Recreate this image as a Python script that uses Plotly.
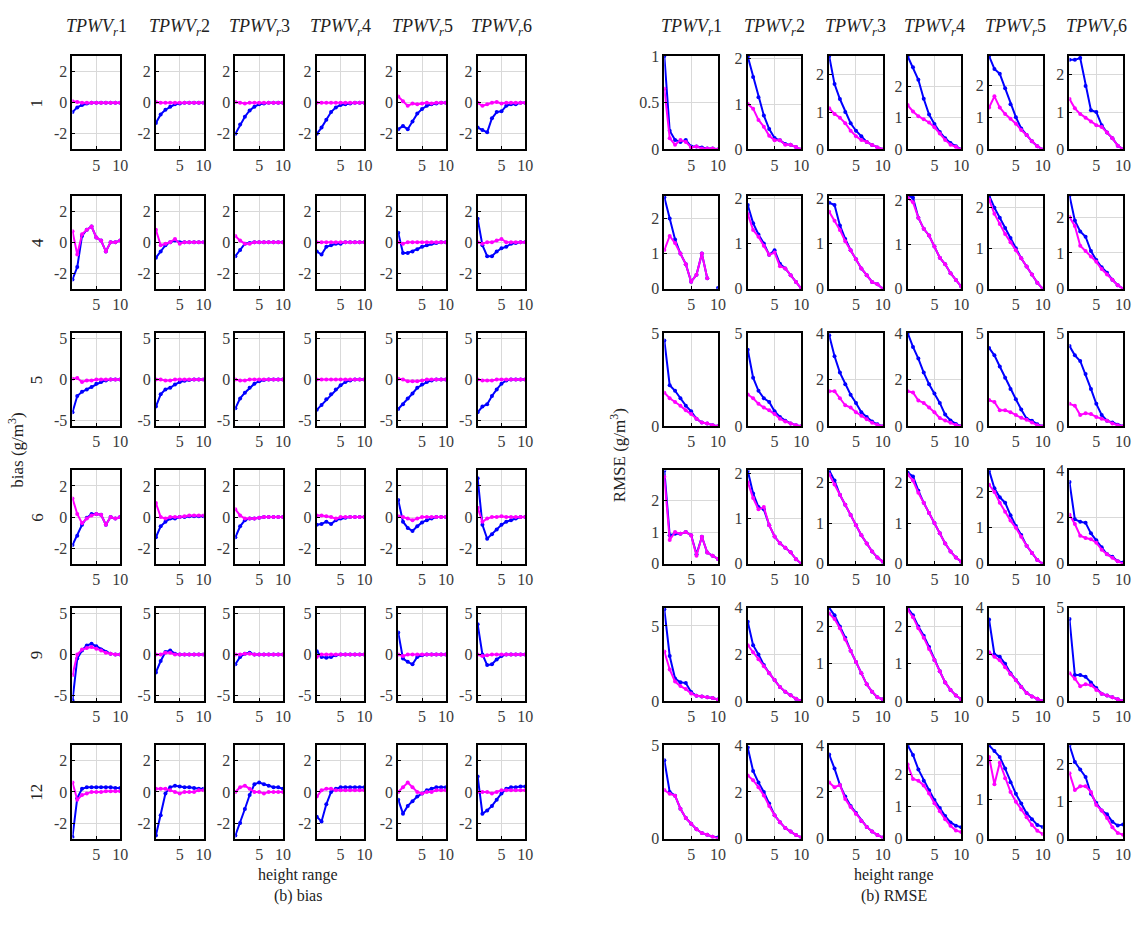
import plotly.graph_objects as go

# ---------------- data ----------------
heights = [0, 1, 2, 3, 4, 5, 6, 7, 8, 9, 10]
row_labels = ["1", "4", "5", "6", "9", "12"]
col_labels = ["1", "2", "3", "4", "5", "6"]
x_tickvals = [5, 10]
x_ticktext = ["5", "10"]

# bias panel: per row, list of 6 columns (blue = first series, magenta = second)
bias_blue_1 = [[-0.6,-0.3,-0.15,-0.05,0,0,0,0,0,0,0],
               [-1.3,-0.75,-0.45,-0.25,-0.1,-0.05,0,0,0,0,0],
               [-2.0,-1.4,-0.9,-0.5,-0.25,-0.1,-0.05,0,0,0,0],
               [-2.0,-1.6,-1.1,-0.6,-0.3,-0.15,-0.1,-0.05,0,0,0],
               [-1.7,-1.5,-1.7,-1.2,-0.7,-0.4,-0.2,-0.1,-0.05,0,0],
               [-1.6,-1.75,-1.9,-1.0,-0.6,-0.55,-0.2,-0.1,-0.1,0,0]]
bias_mag_1 = [[0.1,0.05,0,0,0,0,0,0,0,0,0],
              [0.05,0,0,0,0,0,0,0,0,0,0],
              [0.05,0,-0.05,0,0,0,0,0,0,0,0],
              [0,0,0,0,0,0,0,0,0,0,0],
              [0.4,0.1,-0.2,-0.05,-0.1,-0.05,0,-0.05,0,0,0],
              [0,-0.2,-0.1,0,0.05,-0.05,0,0,0,0,0]]
bias_blue_4 = [[-2.4,-1.6,0.4,0.8,1.0,0.3,0.1,-0.6,0.0,0.0,0.1],
               [-1.0,-0.6,-0.2,0.0,0.1,0,0,0,0,0,0],
               [-0.9,-0.5,-0.1,-0.05,0,0,0,0,0,0,0],
               [-0.6,-0.8,-0.3,-0.2,-0.1,-0.1,0,0,0,0,0],
               [0.6,-0.7,-0.7,-0.6,-0.45,-0.3,-0.2,-0.1,-0.05,0,0],
               [1.5,-0.2,-0.9,-0.9,-0.6,-0.4,-0.3,-0.1,-0.05,0,0]]
bias_mag_4 = [[0.7,-0.8,0.5,0.8,1.0,0.3,0.1,-0.6,0.0,0.0,0.1],
              [0.8,-0.2,-0.1,0.0,0.2,-0.1,0,0,0,0,0],
              [0.4,0.1,-0.1,-0.1,0,0,0,0,0,0,0],
              [0,0,0,0,0,0,0,0,0,0,0],
              [0,-0.1,0,0,0,0,0,0,0,0,0],
              [0,-0.1,0,0,0.1,0.2,0,0,0,0,0]]
bias_blue_5 = [[-4.0,-2.0,-1.5,-1.2,-0.9,-0.5,-0.3,-0.1,0,0,0],
               [-3.3,-1.8,-1.2,-1.0,-0.6,-0.3,-0.15,-0.05,0,0,0],
               [-3.5,-2.3,-1.6,-1.0,-0.5,-0.2,-0.05,0,0,0,0],
               [-3.7,-3.1,-2.4,-1.8,-1.2,-0.7,-0.3,-0.1,0,0,0],
               [-3.6,-3.0,-2.3,-1.7,-1.0,-0.6,-0.3,-0.1,0,0,0],
               [-4.0,-3.3,-3.0,-2.0,-1.2,-0.5,-0.1,0,0,0,0]]
bias_mag_5 = [[0.1,0.2,-0.3,-0.1,-0.1,0,0,0,0,0,0],
              [0,0,-0.1,-0.1,0,0,0,0,0,0,0],
              [0,-0.1,-0.1,0,0,0,0,0,0,0,0],
              [0,0,0,0,0,0,0,0,0,0,0],
              [0.1,0,-0.2,-0.2,-0.2,-0.1,0,0,0,0,0],
              [0,-0.1,-0.1,-0.1,0,0,0,0,0,0,0]]
bias_blue_6 = [[-1.8,-1.2,-0.5,-0.05,0.2,0.2,0.15,-0.5,0.0,-0.1,0.0],
               [-1.3,-0.6,-0.3,-0.1,-0.1,0,0,0.05,0.05,0.05,0.05],
               [-1.3,-0.6,-0.2,-0.1,-0.1,-0.05,0,0,0,0,0],
               [-0.5,-0.45,-0.3,-0.45,-0.2,-0.1,-0.05,0,0,0,0],
               [1.1,-0.3,-0.7,-0.9,-0.6,-0.35,-0.2,-0.1,0,0,0],
               [2.5,-0.5,-1.4,-1.1,-0.8,-0.5,-0.3,-0.2,-0.1,0,0]]
bias_mag_6 = [[1.2,0.2,-0.4,-0.1,0.1,0.2,0.15,-0.5,0.0,-0.1,0.0],
              [0.9,0.0,-0.1,0,0,0,0.05,0.1,0.1,0.1,0.1],
              [0.5,0.1,-0.1,-0.1,-0.1,-0.05,0,0,0,0,0],
              [0.1,0.1,0.05,0,-0.1,0,0,0,0,0,0],
              [0.05,0,-0.1,-0.2,-0.1,0,0,0,0,0,0],
              [0.6,-0.3,-0.1,0,0,0.05,0,0,0,0,0]]
bias_blue_9 = [[-5.6,-0.5,0.5,1.1,1.3,1.0,0.6,0.3,0.1,0,0],
               [-2.2,-0.8,0.3,0.5,0.1,0,0,0,0,0,0],
               [-1.2,-0.3,0.1,0.2,0,0,0,0,0,0,0],
               [0.4,-0.3,-0.4,-0.3,-0.1,0,0,0,0,0,0],
               [2.7,-0.5,-0.9,-1.2,-0.3,-0.1,0,0,0,0,0],
               [3.7,0.0,-1.3,-1.2,-0.6,-0.2,0,0,0,0,0]]
bias_mag_9 = [[-2.5,0.0,0.6,0.8,0.9,0.7,0.5,0.2,0.1,0,0],
              [0,0,0.2,0.2,0,0,0,0,0,0,0],
              [0,0,0.1,0.1,0,0,0,0,0,0,0],
              [-0.3,0,0,0,0,0,0,0,0,0,0],
              [0,-0.2,0,0,0,0,0,0,0,0,0],
              [0,-0.2,-0.1,0,0,0,0,0,0,0,0]]
bias_blue_12 = [[-2.9,-0.4,0.2,0.3,0.3,0.3,0.3,0.3,0.3,0.25,0.25],
                [-2.8,-1.5,-0.1,0.3,0.4,0.35,0.3,0.3,0.25,0.2,0.2],
                [-2.8,-2.0,-1.1,-0.2,0.5,0.6,0.5,0.4,0.3,0.3,0.2],
                [-1.6,-1.9,-0.8,0,0.2,0.3,0.3,0.3,0.3,0.3,0.3],
                [-0.5,-1.4,-0.9,-0.6,-0.3,-0.1,0.1,0.2,0.3,0.3,0.3],
                [1.0,-1.4,-1.2,-0.9,-0.5,-0.1,0.2,0.3,0.3,0.35,0.35]]
bias_mag_12 = [[0.6,-0.5,-0.2,-0.1,0,0,0,0.05,0.05,0.05,0.05],
               [0.2,0.2,0.2,0.1,0,-0.1,0,0,0,0.1,0.1],
               [0,0.3,0.4,0.2,0,0,-0.1,0,0,0,0],
               [-0.3,0.1,0.2,0.2,0.1,0.1,0.1,0.1,0.1,0.1,0.1],
               [0,0.3,0.6,0.3,0,-0.1,0,0,0.1,0.1,0.1],
               [0,0,0,-0.1,0,0.1,0.1,0.1,0.1,0.1,0.1]]
bias_ylim = [3, 3, 5.7, 3, 5.7, 3]
bias_ticks = [[-2, 0, 2], [-2, 0, 2], [-5, 0, 5], [-2, 0, 2], [-5, 0, 5], [-2, 0, 2]]

# RMSE panel
rmse_blue_1 = [[1.0,0.2,0.1,0.08,0.1,0.03,0.03,0.02,0.01,0.01,0.0],
               [2.05,1.6,1.15,0.75,0.45,0.25,0.2,0.12,0.1,0.05,0.0],
               [2.5,1.75,1.35,1.0,0.7,0.5,0.35,0.2,0.12,0.05,0.0],
               [2.95,2.6,2.2,1.6,1.1,0.8,0.55,0.35,0.2,0.1,0.0],
               [2.9,2.5,2.35,1.9,1.4,1.0,0.65,0.45,0.25,0.1,0.0],
               [2.4,2.4,2.45,1.7,1.05,1.0,0.65,0.45,0.3,0.1,0.0]]
rmse_mag_1 = [[0.65,0.12,0.05,0.1,0.08,0.02,0.03,0.01,0.01,0.01,0.0],
              [1.0,0.9,0.65,0.5,0.3,0.2,0.2,0.1,0.1,0.05,0.0],
              [1.1,0.95,0.85,0.7,0.5,0.35,0.25,0.2,0.12,0.05,0.0],
              [1.4,1.2,1.05,0.95,0.85,0.7,0.5,0.3,0.15,0.08,0.0],
              [1.3,1.65,1.3,1.1,0.95,0.8,0.6,0.45,0.25,0.1,0.0],
              [1.35,1.1,0.95,0.85,0.75,0.65,0.6,0.45,0.3,0.1,0.0]]
rmse_blue_4 = [[2.6,2.0,1.4,1.0,0.7,0.2,0.4,1.0,0.3,None,0.02],
               [1.85,1.45,1.2,1.0,0.75,0.85,0.55,0.45,0.3,0.15,0.0],
               [1.9,1.85,1.4,1.1,0.85,0.65,0.45,0.3,0.15,0.1,0.0],
               [2.1,2.05,1.6,1.35,1.2,0.95,0.7,0.55,0.35,0.2,0.05],
               [2.3,2.0,1.75,1.5,1.25,1.0,0.75,0.55,0.35,0.15,0.0],
               [2.6,1.9,1.6,1.45,1.05,0.8,0.6,0.45,0.25,0.1,0.0]]
rmse_mag_4 = [[1.1,1.5,1.3,1.0,0.7,0.2,0.4,1.0,0.3,None,None],
              [1.65,1.3,1.15,0.95,0.75,0.8,0.5,0.45,0.3,0.15,0.0],
              [1.7,1.5,1.3,1.05,0.85,0.65,0.45,0.3,0.15,0.1,0.0],
              [2.05,1.95,1.6,1.35,1.2,0.95,0.7,0.55,0.35,0.2,0.05],
              [2.2,1.85,1.6,1.35,1.15,0.95,0.75,0.55,0.35,0.15,0.0],
              [2.0,1.75,1.2,1.05,0.9,0.75,0.55,0.4,0.25,0.1,0.0]]
rmse_blue_5 = [[4.6,2.2,1.9,1.5,1.1,0.8,0.4,0.2,0.15,0.05,0.0],
               [4.1,2.6,1.9,1.5,1.3,0.8,0.5,0.3,0.15,0.05,0.0],
               [3.9,3.0,2.3,1.8,1.35,1.0,0.6,0.4,0.2,0.08,0.0],
               [4.0,3.4,2.9,2.3,1.8,1.4,1.0,0.5,0.25,0.1,0.0],
               [4.2,3.8,3.2,2.6,2.0,1.45,0.9,0.4,0.3,0.1,0.0],
               [4.3,3.8,3.5,2.8,2.0,1.2,0.6,0.3,0.2,0.08,0.0]]
rmse_mag_5 = [[1.8,1.5,1.3,1.1,0.85,0.65,0.4,0.2,0.15,0.05,0.0],
              [1.7,1.5,1.2,1.0,0.85,0.65,0.4,0.25,0.15,0.05,0.0],
              [1.5,1.5,1.2,0.9,0.8,0.6,0.45,0.3,0.15,0.05,0.0],
              [1.5,1.45,1.1,1.0,0.8,0.6,0.35,0.25,0.15,0.05,0.0],
              [1.4,1.3,0.85,0.85,0.75,0.6,0.45,0.35,0.2,0.05,0.0],
              [1.2,1.1,0.6,0.7,0.65,0.5,0.4,0.3,0.15,0.05,0.0]]
rmse_blue_6 = [[2.95,0.9,0.95,0.95,1.0,0.9,0.3,0.85,0.35,0.25,0.15],
               [2.05,1.55,1.25,1.2,0.85,0.6,0.45,0.35,0.25,0.1,0.0],
               [2.3,2.05,1.7,1.45,1.2,0.95,0.7,0.5,0.3,0.15,0.05],
               [2.25,2.15,1.8,1.5,1.25,1.0,0.75,0.5,0.3,0.15,0.05],
               [2.6,2.1,1.85,1.7,1.35,1.05,0.8,0.5,0.3,0.1,0.0],
               [3.5,1.9,1.8,1.75,1.3,1.0,0.7,0.4,0.3,0.1,0.05]]
rmse_mag_6 = [[2.75,0.75,1.0,0.95,1.0,0.9,0.25,0.85,0.35,0.25,0.15],
              [1.8,1.45,1.2,1.25,0.85,0.6,0.45,0.35,0.25,0.1,0.0],
              [2.2,1.95,1.7,1.45,1.2,0.95,0.7,0.5,0.3,0.15,0.05],
              [2.2,2.05,1.75,1.5,1.25,1.0,0.75,0.5,0.3,0.15,0.05],
              [2.2,2.0,1.7,1.45,1.2,1.0,0.75,0.5,0.3,0.1,0.0],
              [2.1,1.7,1.2,1.1,1.05,0.9,0.6,0.4,0.25,0.1,0.0]]
rmse_blue_9 = [[6.1,3.0,1.5,1.25,1.2,0.6,0.35,0.3,0.25,0.2,0.1],
               [3.4,2.4,2.0,1.55,1.2,0.9,0.6,0.4,0.25,0.1,0.0],
               [2.5,2.3,2.0,1.7,1.35,1.05,0.75,0.45,0.25,0.1,0.05],
               [2.5,2.3,2.0,1.75,1.45,1.1,0.8,0.5,0.3,0.15,0.05],
               [3.5,2.0,1.9,1.6,1.2,0.9,0.6,0.35,0.2,0.1,0.0],
               [4.4,1.4,1.4,1.3,1.0,0.7,0.4,0.3,0.2,0.1,0.0]]
rmse_mag_9 = [[3.3,2.1,1.3,1.0,0.8,0.5,0.35,0.3,0.25,0.2,0.1],
              [2.4,2.1,1.8,1.5,1.2,0.9,0.6,0.4,0.25,0.1,0.0],
              [2.35,2.2,1.95,1.65,1.35,1.05,0.75,0.45,0.25,0.1,0.05],
              [2.45,2.25,1.95,1.7,1.4,1.1,0.8,0.5,0.3,0.15,0.05],
              [2.1,1.9,1.75,1.45,1.15,0.9,0.6,0.35,0.2,0.1,0.0],
              [1.5,1.2,0.8,0.9,0.85,0.6,0.4,0.3,0.2,0.1,0.0]]
rmse_blue_12 = [[4.2,2.5,2.3,1.6,1.1,0.8,0.5,0.3,0.2,0.1,0.05],
                [3.9,2.9,2.4,2.0,1.5,1.0,0.7,0.45,0.3,0.15,0.05],
                [3.6,3.0,2.3,1.8,1.4,1.1,0.75,0.5,0.3,0.15,0.05],
                [2.9,2.6,2.15,1.8,1.5,1.2,0.95,0.7,0.5,0.4,0.35],
                [2.4,2.25,2.1,1.8,1.45,1.15,0.9,0.65,0.5,0.35,0.3],
                [2.5,2.05,1.85,1.65,1.2,0.95,0.75,0.65,0.45,0.35,0.38]]
rmse_mag_12 = [[2.6,2.4,2.3,1.6,1.1,0.8,0.5,0.3,0.2,0.1,0.0],
               [2.7,2.5,2.2,1.85,1.4,1.0,0.7,0.45,0.3,0.15,0.05],
               [2.4,2.2,2.3,1.7,1.35,1.05,0.75,0.5,0.3,0.15,0.05],
               [2.3,1.85,1.8,1.65,1.4,1.1,0.85,0.6,0.4,0.25,0.2],
               [2.1,1.4,1.95,1.55,1.2,0.95,0.75,0.55,0.35,0.2,0.12],
               [1.75,1.3,1.4,1.4,1.25,0.9,0.75,0.55,0.3,0.15,0.1]]
rmse_ymax = [[1.0, 2.06, 2.5, 2.95, 2.9, 2.5],
             [2.65, 2.06, 2.06, 2.1, 2.3, 2.6],
             [5, 5, 4, 4, 5, 5],
             [2.95, 2.06, 2.3, 2.3, 2.6, 4.0],
             [6.2, 4.0, 2.5, 2.5, 4.0, 5.0],
             [5, 4, 4, 2.9, 2.4, 2.5]]
rmse_ticks = [[[0, 0.5, 1], [0, 1, 2], [0, 1, 2], [0, 1, 2], [0, 1, 2], [0, 1, 2]],
              [[0, 1, 2], [0, 1, 2], [0, 1, 2], [0, 1, 2], [0, 1, 2], [0, 1, 2]],
              [[0, 5], [0, 5], [0, 2, 4], [0, 2, 4], [0, 5], [0, 5]],
              [[0, 1, 2], [0, 1, 2], [0, 1, 2], [0, 1, 2], [0, 1, 2], [0, 2, 4]],
              [[0, 5], [0, 2, 4], [0, 1, 2], [0, 1, 2], [0, 2, 4], [0, 5]],
              [[0, 5], [0, 2, 4], [0, 2, 4], [0, 1, 2], [0, 1, 2], [0, 1, 2]]]

bias_blue = [bias_blue_1, bias_blue_4, bias_blue_5, bias_blue_6, bias_blue_9, bias_blue_12]
bias_mag = [bias_mag_1, bias_mag_4, bias_mag_5, bias_mag_6, bias_mag_9, bias_mag_12]
rmse_blue = [rmse_blue_1, rmse_blue_4, rmse_blue_5, rmse_blue_6, rmse_blue_9, rmse_blue_12]
rmse_mag = [rmse_mag_1, rmse_mag_4, rmse_mag_5, rmse_mag_6, rmse_mag_9, rmse_mag_12]

# ---------------- layout geometry (pixels) ----------------
W, H = 1148, 931
L_X0 = [73, 157, 237, 319, 401, 481]
L_W = 48
R_X0 = [669, 753, 835, 914, 996, 1077]
R_W = 54
ROW_Y0 = [49, 191, 331, 471, 611, 751]
ROW_H = 95

BLUE = "#0000ff"
MAG = "#ff00ff"
FONT = "Liberation Serif"
TICKFONT = dict(family=FONT, size=16, color="#3a3a3a")

fig = go.Figure()
layout = {}


def fmt(v):
    return "%g" % v


k = 0
for panel in range(2):
    for r in range(6):
        for c in range(6):
            k += 1
            xa = "x%d" % k
            ya = "y%d" % k
            if panel == 0:
                x0, w = L_X0[c], L_W
                blue, mag = bias_blue[r][c], bias_mag[r][c]
                yr = [-bias_ylim[r], bias_ylim[r]]
                tv = bias_ticks[r]
            else:
                x0, w = R_X0[c], R_W
                blue, mag = rmse_blue[r][c], rmse_mag[r][c]
                yr = [0, rmse_ymax[r][c]]
                tv = rmse_ticks[r][c]
            y0 = ROW_Y0[r]
            for vals, col in ((blue, BLUE), (mag, MAG)):
                fig.add_trace(go.Scatter(
                    x=heights, y=vals, mode="lines+markers",
                    line=dict(color=col, width=2),
                    marker=dict(color=col, size=4),
                    xaxis=xa, yaxis=ya, showlegend=False,
                    hoverinfo="skip", connectgaps=False))
            layout["xaxis%d" % k] = dict(
                domain=[x0 / W, (x0 + w) / W], anchor=ya,
                range=[0, 10], tickvals=x_tickvals, ticktext=x_ticktext,
                showgrid=True, gridcolor="#d9d9d9", gridwidth=1,
                showline=True, mirror=True, linecolor="black", linewidth=2,
                ticks="inside", ticklen=3, tickcolor="black",
                tickfont=TICKFONT, zeroline=False, fixedrange=True)
            layout["yaxis%d" % k] = dict(
                domain=[1 - (y0 + ROW_H) / H, 1 - y0 / H], anchor=xa,
                range=yr, tickvals=tv, ticktext=[fmt(v) for v in tv],
                showgrid=True, gridcolor="#d9d9d9", gridwidth=1,
                showline=True, mirror=True, linecolor="black", linewidth=2,
                ticks="inside", ticklen=3, tickcolor="black",
                tickfont=TICKFONT, zeroline=False, fixedrange=True)

annotations = []
title_tmpl = "<i>TPWV</i><sub><i>r</i></sub>%s"
for X0, w in ((L_X0, L_W), (R_X0, R_W)):
    for c in range(6):
        annotations.append(dict(
            text=title_tmpl % col_labels[c], x=(X0[c] + w / 2) / W, y=1 - 20 / H,
            xref="paper", yref="paper", showarrow=False,
            xanchor="center", yanchor="middle",
            font=dict(family=FONT, size=18, color="#222")))
for r in range(6):
    annotations.append(dict(
        text=row_labels[r], x=37 / W, y=1 - (ROW_Y0[r] + ROW_H / 2) / H,
        xref="paper", yref="paper", showarrow=False, textangle=-90,
        xanchor="center", yanchor="middle",
        font=dict(family=FONT, size=17, color="#222")))
annotations.append(dict(
    text="bias (g/m<sup>3</sup>)", x=16 / W, y=1 - 450 / H, xref="paper", yref="paper",
    showarrow=False, textangle=-90, xanchor="center", yanchor="middle",
    font=dict(family=FONT, size=17, color="#222")))
annotations.append(dict(
    text="RMSE (g/m<sup>3</sup>)", x=622 / W, y=1 - 456 / H, xref="paper", yref="paper",
    showarrow=False, textangle=-90, xanchor="center", yanchor="middle",
    font=dict(family=FONT, size=17, color="#222")))
for cx, cap in ((300, "(b) bias"), (900, "(b) RMSE")):
    annotations.append(dict(
        text="height range", x=cx / W, y=1 - 883 / H, xref="paper", yref="paper",
        showarrow=False, xanchor="center", yanchor="middle",
        font=dict(family=FONT, size=16, color="#222")))
    annotations.append(dict(
        text=cap, x=cx / W, y=1 - 905 / H, xref="paper", yref="paper",
        showarrow=False, xanchor="center", yanchor="middle",
        font=dict(family=FONT, size=16, color="#222")))

fig.update_layout(**layout)
fig.update_layout(
    width=W, height=H, margin=dict(l=0, r=0, t=0, b=0),
    paper_bgcolor="white", plot_bgcolor="white",
    annotations=annotations, showlegend=False)

fig.write_html("out.html")
